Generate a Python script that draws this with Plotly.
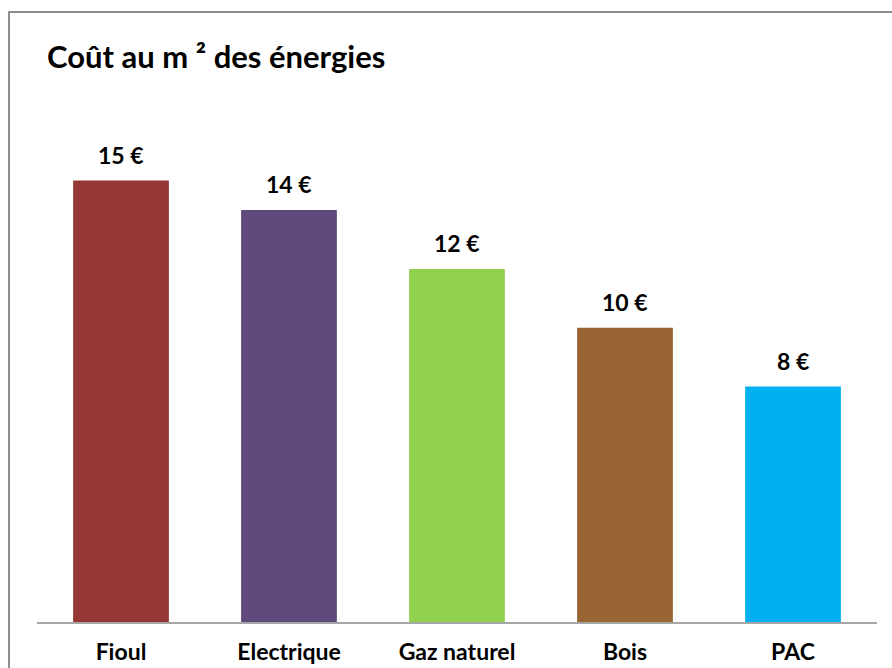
import plotly.graph_objects as go

# données
categories = ['Fioul', 'Electrique', 'Gaz naturel', 'Bois', 'PAC']
couts = [15, 14, 12, 10, 8]
couleurs = ['#953735', '#604a7b', '#92d050', '#996633', '#00b0f0']
labels = [f'{v} €' for v in couts]

police = 'Lato'
W, H = 892, 668

fig = go.Figure()

fig.add_trace(go.Bar(
    x=categories,
    y=couts,
    marker=dict(color=couleurs, line=dict(width=0)),
    hoverinfo='skip'
))

# étiquettes de valeur au-dessus des barres
for cat, val, lab in zip(categories, couts, labels):
    fig.add_annotation(
        x=cat, y=val, text=lab, showarrow=False,
        yanchor='bottom', yshift=10,
        font=dict(family=police, size=23, color='#000000', weight='bold')
    )

fig.update_layout(
    width=W,
    height=H,
    margin=dict(l=37, r=15, t=100, b=46, autoexpand=False),
    paper_bgcolor='white',
    plot_bgcolor='white',
    showlegend=False,
    bargap=0.43,
    title=dict(
        text='Coût au m ² des énergies',
        x=47 / W, xanchor='left',
        y=1 - 57 / H, yanchor='middle',
        font=dict(family=police, size=31, color='#000000', weight='bold')
    ),
    xaxis=dict(
        showline=True, linecolor='#a6a6a6', linewidth=1.5,
        showgrid=False, ticks='', ticklabelstandoff=9,
        tickfont=dict(family=police, size=23, color='#000000', weight='bold')
    ),
    yaxis=dict(
        range=[0, 17.74], visible=False, showgrid=False, zeroline=False
    ),
    # cadre gris autour du graphique
    shapes=[dict(
        type='rect', xref='paper', yref='paper',
        x0=-0.0333, x1=1.2, y0=-0.3, y1=1.1686,
        line=dict(color='#8c8c8c', width=2), layer='below'
    )]
)

# pas de marge de page autour de la figure, pas de barre d'outils
fig.write_html(
    "out.html",
    config={'displayModeBar': False},
    post_script="document.body.style.margin='0';"
)
